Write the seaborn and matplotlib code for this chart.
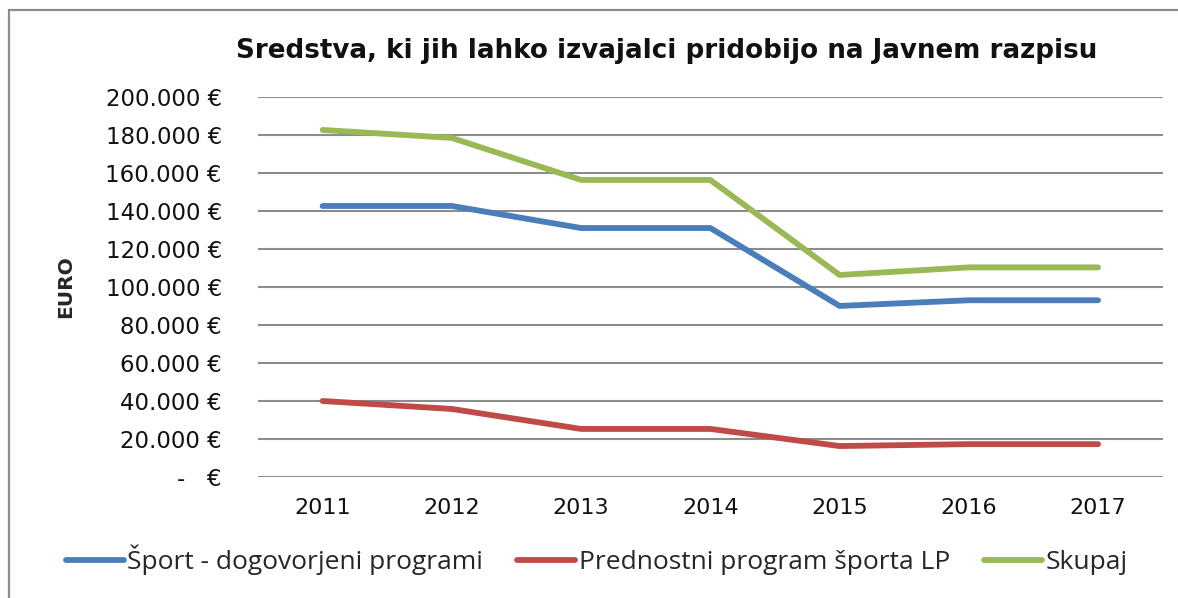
import matplotlib
matplotlib.use("Agg")
import matplotlib.pyplot as plt
import matplotlib.ticker as mticker
from matplotlib.patches import Rectangle
import seaborn as sns
import pandas as pd

# Data
years = ["2011", "2012", "2013", "2014", "2015", "2016", "2017"]
sport_programi = [142600, 142600, 131000, 131000, 90000, 93000, 93000]
prednostni_lp = [40000, 35800, 25300, 25300, 16300, 17300, 17300]
skupaj = [182600, 178400, 156300, 156300, 106300, 110300, 110300]

series_names = ["Šport - dogovorjeni programi", "Prednostni program športa LP", "Skupaj"]
colors = ["#4A7EBB", "#BE4B48", "#98B954"]

df = pd.DataFrame({"leto": years * 3,
                   "vrednost": sport_programi + prednostni_lp + skupaj,
                   "serija": [series_names[0]] * 7 + [series_names[1]] * 7 + [series_names[2]] * 7})

sns.set_style("white")
plt.rcParams["font.family"] = ["DejaVu Sans"]

fig = plt.figure(figsize=(11.78, 5.98), dpi=100)
ax = fig.add_axes([0.219, 0.2023, 0.768, 0.6357])

sns.lineplot(data=df, x="leto", y="vrednost", hue="serija", palette=colors,
             linewidth=4.2, sort=False, ax=ax, legend=False, solid_capstyle="round")

ax.set_ylim(0, 200000)
ax.set_xlim(-0.5, 6.5)
ax.yaxis.set_major_locator(mticker.MultipleLocator(20000))


def euro(v, pos):
    if v == 0:
        return "-   €"
    return f"{int(v):,} €".replace(",", ".")


ax.yaxis.set_major_formatter(mticker.FuncFormatter(euro))
ax.grid(axis="y", color="#8c8c8c", linewidth=1.5)
ax.set_axisbelow(True)
for s in ax.spines.values():
    s.set_visible(False)
ax.tick_params(axis="y", labelsize=16.5, pad=26, length=0, colors="#111111")
ax.tick_params(axis="x", labelsize=16, pad=15, length=0, colors="#111111")
ax.set_xlabel("")
ax.set_ylabel("EURO", fontsize=14.5, fontweight="bold")
ax.yaxis.set_label_coords(-0.202, 0.5)

fig.text(0.566, 0.915, "Sredstva, ki jih lahko izvajalci pridobijo na Javnem razpisu",
         ha="center", va="center", fontsize=18.8, fontweight="bold", color="#111111")

# legend
handles = [plt.Line2D([], [], color=c, linewidth=4.2, solid_capstyle="round") for c in colors]
fig.legend(handles, series_names, loc="center left", bbox_to_anchor=(0.056, 0.064),
           ncol=3, frameon=False, handlelength=2.2, handletextpad=0.12, columnspacing=1.3,
           borderaxespad=0, borderpad=0,
           prop={"family": "Open Sans", "size": 19})

# outer chart frame (top and left edges visible)
fig.patches.append(Rectangle((0.0075, -0.05), 1.2, 1.034, transform=fig.transFigure,
                             fill=False, edgecolor="#8c8c8c", linewidth=1.6))

fig.savefig("out.png", dpi=100, facecolor="white")
